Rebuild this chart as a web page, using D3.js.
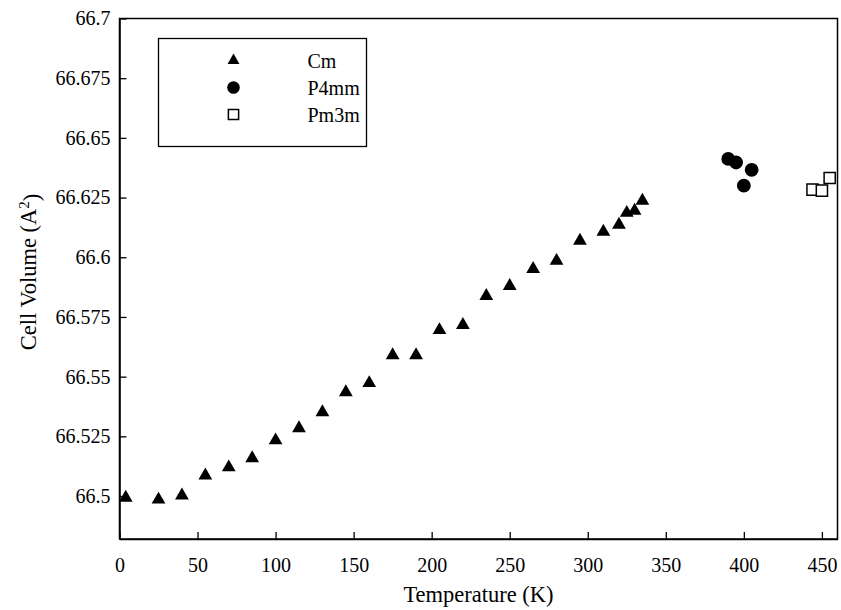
<!DOCTYPE html>
<html>
<head>
<meta charset="utf-8">
<script src="https://cdn.jsdelivr.net/npm/d3@7"></script>
<style>
    body { margin: 0; background: #fff; }
    text { font-family: 'Liberation Serif', 'Times New Roman', serif; fill: #000; }
</style>
</head>
<body>
<div id="chart"></div>
<script>
// data
let cmTemp = [4, 25, 40, 55, 70, 85, 100, 115, 130, 145, 160, 175, 190, 205, 220, 235, 250, 265, 280, 295, 310, 320, 325, 330, 335]
let cmVol = [66.4993, 66.4985, 66.5002, 66.5086, 66.512, 66.5158, 66.5233, 66.5284, 66.5351, 66.5435, 66.5473, 66.559, 66.559,
    66.5695, 66.5716, 66.5838, 66.588, 66.5951, 66.5985, 66.6069, 66.6107, 66.6136, 66.6186, 66.6195, 66.6237]

let p4Temp = [390, 395, 400, 405]
let p4Vol = [66.6412, 66.6397, 66.63, 66.6366]

let pmTemp = [444, 450, 455]
let pmVol = [66.6283, 66.6279, 66.6332]

let xTicks = [0, 50, 100, 150, 200, 250, 300, 350, 400, 450]
let yTicks = [66.5, 66.525, 66.55, 66.575, 66.6, 66.625, 66.65, 66.675, 66.7]

let seriesNames = ['Cm', 'P4mm', 'Pm3m']

// layout
const width = 841
const height = 610
const margin = { left: 119.5, right: 3.5, top: 18.5, bottom: 71 }
const plotW = width - margin.left - margin.right
const plotH = height - margin.top - margin.bottom

let x = d3.scaleLinear().domain([0, 460]).range([0, plotW])
let y = d3.scaleLinear().domain([66.482, 66.7]).range([plotH, 0])

let series = [
    { name: seriesNames[0], pts: cmTemp.map((t, i) => [t, cmVol[i]]), shape: d3.symbolTriangle, size: 82, legSize: 62, fill: '#000' },
    { name: seriesNames[1], pts: p4Temp.map((t, i) => [t, p4Vol[i]]), shape: d3.symbolCircle, size: 150, legSize: 125, fill: '#000' },
    { name: seriesNames[2], pts: pmTemp.map((t, i) => [t, pmVol[i]]), shape: d3.symbolSquare, size: 125, legSize: 105, fill: '#fff' }
]

const svg = d3.select('#chart').append('svg')
    .attr('width', width)
    .attr('height', height)

const g = svg.append('g')
    .attr('transform', 'translate(' + margin.left + ',' + margin.top + ')')

// frame
g.append('rect')
    .attr('width', plotW)
    .attr('height', plotH)
    .style('fill', 'none')
    .style('stroke', '#000')
    .style('stroke-width', 1.5)

g.append('g')
    .attr('transform', 'translate(0,' + plotH + ')')
    .call(d3.axisBottom(x).tickValues(xTicks).tickSizeInner(-7).tickSizeOuter(0).tickPadding(19).tickFormat(d3.format('d')))

g.append('g')
    .call(d3.axisLeft(y).tickValues(yTicks).tickSizeInner(-7).tickSizeOuter(0).tickPadding(9).tickFormat(d => String(+d.toFixed(3))))

g.selectAll('.domain').style('stroke', '#000').style('stroke-width', 1.5)
g.selectAll('.tick line').style('stroke', '#000').style('stroke-width', 1.3)
g.selectAll('.tick text').style('font-family', "'Liberation Serif', serif").style('font-size', '20px').style('fill', '#000')

// points
series.forEach(s => {
    g.append('g').selectAll('path')
        .data(s.pts)
        .enter()
        .append('path')
        .attr('transform', d => 'translate(' + x(d[0]) + ',' + y(d[1]) + ')')
        .attr('d', d3.symbol().type(s.shape).size(s.size))
        .style('fill', s.fill)
        .style('stroke', '#000')
        .style('stroke-width', s.fill === '#fff' ? 1.5 : 0)
})

// legend
let legend = svg.append('g')
    .attr('transform', 'translate(158.5,38.5)')

legend.append('rect')
    .attr('width', 208)
    .attr('height', 108)
    .style('fill', '#fff')
    .style('stroke', '#000')
    .style('stroke-width', 1.3)

let items = legend.selectAll('.item')
    .data(series)
    .enter()
    .append('g')
    .attr('transform', (d, i) => 'translate(0,' + (22 + i * 27) + ')')

items.append('path')
    .attr('transform', 'translate(75,0)')
    .attr('d', d => d3.symbol().type(d.shape).size(d.legSize)())
    .style('fill', d => d.fill)
    .style('stroke', '#000')
    .style('stroke-width', d => d.fill === '#fff' ? 1.5 : 0)

items.append('text')
    .attr('x', 149)
    .attr('dy', '0.35em')
    .style('font-size', '20px')
    .text(d => d.name)

// axis titles
svg.append('text')
    .attr('x', margin.left + plotW / 2)
    .attr('y', 602)
    .style('text-anchor', 'middle')
    .style('font-size', '22.5px')
    .text('Temperature (K)')

let yTitle = svg.append('text')
    .attr('transform', 'translate(36,272) rotate(-90)')
    .style('text-anchor', 'middle')
    .style('font-size', '22.5px')

yTitle.append('tspan').text('Cell Volume (A')
yTitle.append('tspan').attr('dy', '-0.45em').style('font-size', '15px').text('2')
yTitle.append('tspan').attr('dy', '0.45em').text(')')
</script>
</body>
</html>
